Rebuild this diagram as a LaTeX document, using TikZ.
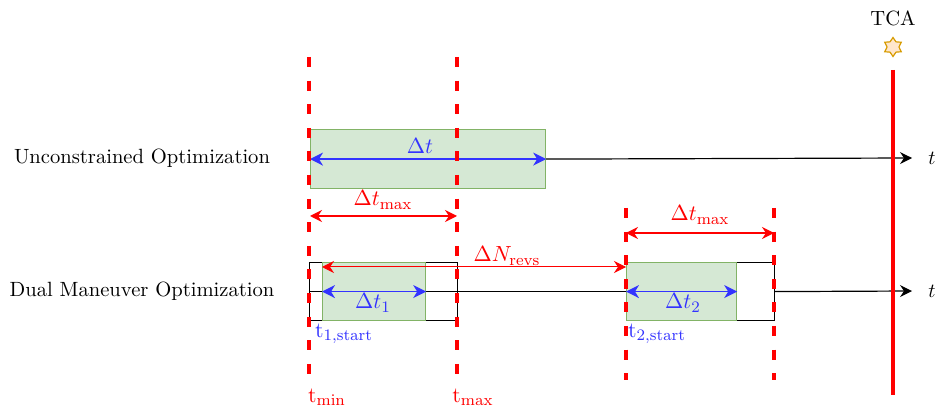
\documentclass[tikz,border=0pt]{standalone}
\usetikzlibrary{arrows.meta,shapes.geometric}
\definecolor{dred}{HTML}{FF0000}
\definecolor{dblue}{HTML}{3333FF}
\definecolor{gfill}{HTML}{D5E8D4}
\definecolor{gdraw}{HTML}{82B366}
\definecolor{ofill}{HTML}{FFE6CC}
\definecolor{odraw}{HTML}{D79B00}
\begin{document}
\begin{tikzpicture}[x=0.5pt,y=-0.5pt,
  reddash/.style={dred,line width=2pt,dash pattern=on 5pt off 6.8pt},
  greenbox/.style={fill=gfill,draw=gdraw,line width=0.6pt},
  blackline/.style={black,line width=0.6pt},
  blarrow/.style={dblue,line width=0.7pt,{Stealth[length=6.5pt,width=6.5pt,inset=2pt]}-{Stealth[length=6.5pt,width=6.5pt,inset=2pt]}},
  rdarrow/.style={dred,line width=0.7pt,{Stealth[length=6pt,width=6pt,inset=2pt]}-{Stealth[length=6pt,width=6pt,inset=2pt]}},
  axarrow/.style={black,line width=0.6pt,-{Stealth[length=6pt,width=6pt,inset=2pt]}},
  lbl/.style={inner sep=0pt,font=\fontsize{10.3pt}{12pt}\selectfont},
  mlbl/.style={inner sep=0pt,font=\fontsize{10.8pt}{13pt}\selectfont}]
\useasboundingbox (0,0) rectangle (938,406);
% coordinates
\coordinate (a2) at (912,158);
\coordinate (b3) at (912,291);
% upper
\node[greenbox,minimum width=117.5pt,minimum height=29.5pt,anchor=north west,inner sep=0pt] (gu) at (310,129) {};
\draw[axarrow] (gu.east) -- (a2);
\draw[blarrow] (gu.west) -- (gu.east);
\node[mlbl,text=dblue] (dt) at (420,146) {$\Delta t$};
\node[lbl] (t1) at (932,158) {$t$};
% lower black rects
\node[draw=black,line width=0.6pt,minimum width=74pt,minimum height=29pt,anchor=north west,inner sep=0pt] (r1) at (309,262) {};
\node[draw=black,line width=0.6pt,minimum width=74pt,minimum height=29pt,anchor=north west,inner sep=0pt] (r2) at (626,262) {};
\draw[blackline] (r1.west) -- (r2.west);
\draw[axarrow] (r2.east) -- (b3);
\node[greenbox,minimum width=51.5pt,minimum height=29pt,anchor=north west,inner sep=0pt] (g1) at (322,262) {};
\node[greenbox,minimum width=55pt,minimum height=29pt,anchor=north west,inner sep=0pt] (g2) at (626,262) {};
\draw[blarrow] (g1.west) -- (g1.east);
\draw[blarrow] (g2.west) -- (g2.east);
\node[mlbl,text=dblue] (dt1) at (373,303) {$\Delta t_1$};
\node[mlbl,text=dblue] (dt2) at (683,303) {$\Delta t_2$};
\node[lbl] (t2) at (932,291) {$t$};
\node[mlbl,text=dblue] (s1) at (344,334) {$\mathrm{t}_{\mathrm{1,start}}$};
\node[mlbl,text=dblue] (s2) at (657,334) {$\mathrm{t}_{\mathrm{2,start}}$};
% dashed lines
\coordinate (d1t) at (309,57); \coordinate (d1b) at (309,386);
\coordinate (d2t) at (457,57); \coordinate (d2b) at (457,386);
\coordinate (d3t) at (626,208); \coordinate (d3b) at (626,380);
\coordinate (d4t) at (774,208); \coordinate (d4b) at (774,380);
\draw[reddash] (d1t) -- (d1b);
\draw[reddash] (d2t) -- (d2b);
\draw[reddash] (d3t) -- (d3b);
\draw[reddash] (d4t) -- (d4b);
% red arrows
\coordinate (m1a) at (310,216); \coordinate (m1b) at (457,216);
\draw[rdarrow] (m1a) -- (m1b);
\node[mlbl,text=dred] (dtm1) at (383,200) {$\Delta t_{\max}$};
\coordinate (m2a) at (626,233); \coordinate (m2b) at (774,233);
\draw[rdarrow] (m2a) -- (m2b);
\node[mlbl,text=dred] (dtm2) at (700,215) {$\Delta t_{\max}$};
\coordinate (n1) at (322,267); \coordinate (n2) at (626,267);
\draw[dred,line width=0.5pt,{Stealth[length=6pt,width=6pt,inset=2pt]}-{Stealth[length=6pt,width=6pt,inset=2pt]}] (n1) -- (n2);
\node[mlbl,text=dred] (nrev) at (507,256) {$\Delta N_{\mathrm{revs}}$};
\node[mlbl,text=dred] (tmin) at (327,397) {$\mathrm{t}_{\min}$};
\node[mlbl,text=dred] (tmax) at (473,397) {$\mathrm{t}_{\max}$};
% TCA
\coordinate (tcat) at (893,70); \coordinate (tcab) at (893,395);
\draw[dred,line width=2pt] (tcat) -- (tcab);
\node[star,star points=6,star point ratio=1.6,fill=ofill,draw=odraw,line width=0.6pt,minimum size=9.5pt,inner sep=0pt] (st) at (893,47) {};
\node[lbl] (tca) at (893,18) {TCA};
% left labels
\node[lbl] (u) at (142,158) {Unconstrained Optimization};
\node[lbl] (d) at (142,291) {Dual Maneuver Optimization};
\end{tikzpicture}
\end{document}
